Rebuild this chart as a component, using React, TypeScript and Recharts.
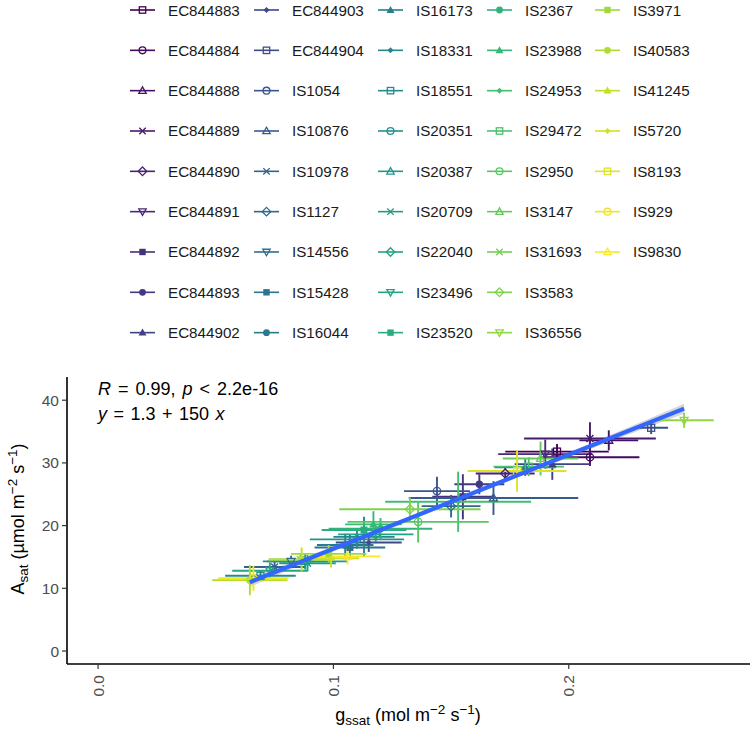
import React from 'react'
import { ComposedChart, Scatter, ErrorBar, XAxis, YAxis, Line, Area } from 'recharts'

// genotypes in legend order
const genotypes = [
  'EC844883', 'EC844884', 'EC844888', 'EC844889', 'EC844890', 'EC844891', 'EC844892', 'EC844893', 'EC844902',
  'EC844903', 'EC844904', 'IS1054', 'IS10876', 'IS10978', 'IS1127', 'IS14556', 'IS15428', 'IS16044',
  'IS16173', 'IS18331', 'IS18551', 'IS20351', 'IS20387', 'IS20709', 'IS22040', 'IS23496', 'IS23520',
  'IS2367', 'IS23988', 'IS24953', 'IS29472', 'IS2950', 'IS3147', 'IS31693', 'IS3583', 'IS36556',
  'IS3971', 'IS40583', 'IS41245', 'IS5720', 'IS8193', 'IS929', 'IS9830',
]

// mean gs_sat (mol m-2 s-1)
const gssat = [
  0.195, 0.209, 0.217, 0.209, 0.173, 0.190, 0.155, 0.162, 0.193,
  0.115, 0.235, 0.144, 0.168, 0.075, 0.150, 0.082, 0.107, 0.105,
  0.1815, 0.113, 0.069, 0.110, 0.088, 0.089, 0.118, 0.073, 0.113,
  0.120, 0.117, 0.153, 0.183, 0.136, 0.188, 0.086, 0.1325, 0.249,
  0.098, 0.0645, 0.0865, 0.099, 0.178, 0.066, 0.106,
]
const gssatSe = [
  0.022, 0.021, 0.0125, 0.028, 0.0125, 0.020, 0.013, 0.0106, 0.016,
  0.014, 0.0072, 0.014, 0.036, 0.013, 0.0125, 0.010, 0.015, 0.012,
  0.013, 0.013, 0.015, 0.020, 0.018, 0.012, 0.016, 0.016, 0.018,
  0.022, 0.012, 0.031, 0.015, 0.030, 0.016, 0.0135, 0.030, 0.0126,
  0.016, 0.016, 0.014, 0.012, 0.021, 0.015, 0.014,
]

// mean A_sat (umol m-2 s-1)
const asat = [
  31.8, 30.9, 33.6, 33.9, 28.3, 31.4, 24.6, 26.6, 29.8,
  17.3, 35.6, 25.5, 24.4, 13.4, 23.1, 14.3, 16.5, 16.9,
  29.3, 18.2, 12.0, 17.8, 14.3, 14.0, 18.6, 12.8, 19.3,
  19.5, 20.2, 23.8, 29.4, 20.6, 30.7, 14.6, 22.6, 36.8,
  15.5, 11.3, 14.6, 14.8, 28.7, 11.6, 15.1,
]
const asatSe = [
  1.2, 1.4, 1.6, 2.6, 1.2, 2.3, 3.6, 1.6, 2.5,
  1.5, 1.0, 2.3, 2.7, 1.0, 1.8, 0.9, 2.0, 1.8,
  1.4, 3.2, 0.8, 1.5, 1.3, 1.3, 1.2, 1.3, 1.5,
  1.7, 2.1, 4.8, 1.5, 3.3, 2.7, 1.0, 1.9, 1.2,
  1.4, 2.4, 1.9, 1.5, 3.3, 2.0, 1.3,
]

// fitted line y = 1.3 + 150 x and its confidence band half-width
const intercept = 1.3
const slope = 150
const bandX = [0.0645, 0.1, 0.15, 0.2, 0.249]
const bandHalf = [0.75, 0.4, 0.3, 0.4, 0.8]

const xTicks = [0, 0.1, 0.2]
const yTicks = [0, 10, 20, 30, 40]

const SHAPES = [
  'square', 'circle', 'triangle', 'cross', 'diamond',
  'triangleDown', 'squareFilled', 'circleFilled', 'triangleFilled', 'diamondFilled',
]

const VIRIDIS = ['#440154', '#482475', '#414487', '#355f8d', '#2a788e', '#21918c', '#22a884', '#44bf70', '#7ad151', '#bddf26', '#fde725']

const FONT = '"Liberation Sans", Arial, Helvetica, sans-serif'

function hexToRgb(h: string) {
  const n = parseInt(h.slice(1), 16)
  return [n >> 16, (n >> 8) & 255, n & 255]
}

function viridis(t: number) {
  const p = t * (VIRIDIS.length - 1)
  const i = Math.min(VIRIDIS.length - 2, Math.floor(p))
  const f = p - i
  const a = hexToRgb(VIRIDIS[i])
  const b = hexToRgb(VIRIDIS[i + 1])
  return `rgb(${a.map((v, k) => Math.round(v + (b[k] - v) * f)).join(',')})`
}

const colors = genotypes.map((_, i) => viridis(i / (genotypes.length - 1)))

function tri(cx: number, cy: number, s: number, dir: number) {
  return `${cx},${cy - 1.15 * s * dir} ${cx - s},${cy + 0.6 * s * dir} ${cx + s},${cy + 0.6 * s * dir}`
}

function Marker({ kind, cx, cy, color, s = 4 }: { kind: string; cx: number; cy: number; color: string; s?: number }) {
  const sw = 1.3
  const open = { fill: 'none', stroke: color, strokeWidth: sw }
  switch (kind) {
    case 'square':
      return <rect x={cx - s + 0.5} y={cy - s + 0.5} width={2 * s - 1} height={2 * s - 1} {...open} />
    case 'circle':
      return <circle cx={cx} cy={cy} r={s - 0.3} {...open} />
    case 'triangle':
      return <polygon points={tri(cx, cy + 0.5, s, 1)} {...open} />
    case 'cross':
      return <path d={`M${cx - s + 0.5},${cy - s + 0.5}L${cx + s - 0.5},${cy + s - 0.5}M${cx - s + 0.5},${cy + s - 0.5}L${cx + s - 0.5},${cy - s + 0.5}`} {...open} />
    case 'diamond':
      return <polygon points={`${cx},${cy - s - 0.6} ${cx + s + 0.6},${cy} ${cx},${cy + s + 0.6} ${cx - s - 0.6},${cy}`} {...open} />
    case 'triangleDown':
      return <polygon points={tri(cx, cy - 0.5, s, -1)} {...open} />
    case 'squareFilled':
      return <rect x={cx - s + 0.5} y={cy - s + 0.5} width={2 * s - 1} height={2 * s - 1} fill={color} />
    case 'circleFilled':
      return <circle cx={cx} cy={cy} r={s - 0.3} fill={color} />
    case 'triangleFilled':
      return <polygon points={tri(cx, cy + 0.5, s + 0.3, 1)} fill={color} />
    default:
      return <polygon points={`${cx},${cy - 3} ${cx + 3},${cy} ${cx},${cy + 3} ${cx - 3},${cy}`} fill={color} />
  }
}

function XTick({ x, y, payload }: any) {
  return (
    <text x={x} y={y} transform={`rotate(-90 ${x} ${y})`} textAnchor="end" dy="0.36em"
      fontSize={15.5} fill="#4D4D4D" fontFamily={FONT}>
      {Number(payload.value).toFixed(1)}
    </text>
  )
}

function Legend() {
  const colX = [130, 254, 378, 487, 595]
  return (
    <g fontFamily={FONT}>
      {genotypes.map((name, i) => {
        const x = colX[Math.floor(i / 9)]
        const y = 10 + 40.33 * (i % 9)
        return (
          <g key={name}>
            <line x1={x} x2={x + 25} y1={y} y2={y} stroke={colors[i]} strokeWidth={1.6} />
            <Marker kind={SHAPES[i % SHAPES.length]} cx={x + 12.5} cy={y} color={colors[i]} s={3.7} />
            <text x={x + 38} y={y} dominantBaseline="central" fontSize={15.2} fill="#1a1a1a">{name}</text>
          </g>
        )
      })}
    </g>
  )
}

function Titles() {
  return (
    <g fontFamily={FONT} fill="#000">
      <text x={98} y={395} fontSize={18} wordSpacing={2}>
        <tspan fontStyle="italic">R</tspan> = 0.99, <tspan fontStyle="italic">p</tspan> &lt; 2.2e-16
      </text>
      <text x={98} y={420} fontSize={18} wordSpacing={1.5}>
        <tspan fontStyle="italic">y</tspan> = 1.3 + 150 <tspan fontStyle="italic">x</tspan>
      </text>
      <text x={408} y={721} fontSize={18} textAnchor="middle">
        g<tspan fontSize={13.5} dy={4}>ssat</tspan>
        <tspan dy={-4}> (mol m</tspan>
        <tspan fontSize={13.5} dy={-7.5}>−2</tspan>
        <tspan dy={7.5}> s</tspan>
        <tspan fontSize={13.5} dy={-7.5}>−1</tspan>
        <tspan dy={7.5}>)</tspan>
      </text>
      <text x={0} y={0} fontSize={18} textAnchor="middle" transform="translate(24 519) rotate(-90)">
        A<tspan fontSize={13.5} dy={4}>sat</tspan>
        <tspan dy={-4}> (µmol m</tspan>
        <tspan fontSize={13.5} dy={-7.5}>−2</tspan>
        <tspan dy={7.5}> s</tspan>
        <tspan fontSize={13.5} dy={-7.5}>−1</tspan>
        <tspan dy={7.5}>)</tspan>
      </text>
    </g>
  )
}

export default function App() {
  const points = genotypes.map((name, i) => ({ name, x: gssat[i], y: asat[i], ex: gssatSe[i], ey: asatSe[i] }))
  const xMin = Math.min(...gssat)
  const xMax = Math.max(...gssat)
  const fitLine = [xMin, xMax].map(x => ({ x, fit: intercept + slope * x }))
  const band = bandX.map((x, i) => ({ x, band: [intercept + slope * x - bandHalf[i], intercept + slope * x + bandHalf[i]] }))

  return (
    <div style={{ position: 'absolute', left: 0, top: 0, width: 755, height: 732, background: '#fff' }}>
      <ComposedChart width={755} height={732} margin={{ top: 377, right: 5, bottom: 18, left: 27 }}>
        <XAxis type="number" dataKey="x" domain={[-0.0132, 0.277]} ticks={xTicks} allowDataOverflow
          height={50} tick={<XTick />} tickSize={5} tickMargin={6}
          axisLine={{ stroke: '#000', strokeWidth: 1.6 }} tickLine={{ stroke: '#333', strokeWidth: 1.2 }} />
        <YAxis type="number" dataKey="y" domain={[-2.07, 43.7]} ticks={yTicks} allowDataOverflow
          width={40} tickSize={5} tickMargin={3}
          tick={{ fontSize: 15.5, fill: '#4D4D4D', fontFamily: FONT }}
          axisLine={{ stroke: '#000', strokeWidth: 1.6 }} tickLine={{ stroke: '#333', strokeWidth: 1.2 }} />
        <Area data={band} dataKey="band" type="monotone" stroke="none" fill="#999999" fillOpacity={0.4}
          isAnimationActive={false} dot={false} activeDot={false} />
        {points.map((p, i) => (
          <Scatter key={p.name} name={p.name} data={[p]} isAnimationActive={false}
            shape={(props: any) => <Marker kind={SHAPES[i % SHAPES.length]} cx={props.cx} cy={props.cy} color={colors[i]} />}>
            <ErrorBar dataKey="ex" direction="x" width={0} stroke={colors[i]} strokeWidth={1.9} isAnimationActive={false} />
            <ErrorBar dataKey="ey" direction="y" width={0} stroke={colors[i]} strokeWidth={1.9} isAnimationActive={false} />
          </Scatter>
        ))}
        <Line data={fitLine} dataKey="fit" type="linear" stroke="#3366FF" strokeWidth={4.2} dot={false}
          activeDot={false} isAnimationActive={false} zIndex={1000} />
      </ComposedChart>
      <svg width={755} height={732} style={{ position: 'absolute', left: 0, top: 0, pointerEvents: 'none' }}>
        <Legend />
        <Titles />
      </svg>
    </div>
  )
}
